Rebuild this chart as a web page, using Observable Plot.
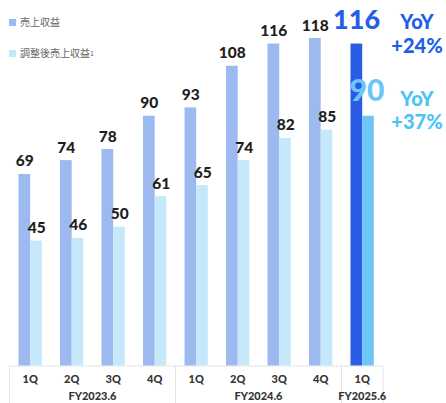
<!DOCTYPE html>
<html>
<head>
<meta charset="utf-8">
<script src="https://cdn.jsdelivr.net/npm/d3@7"></script>
<script src="https://cdn.jsdelivr.net/npm/@observablehq/plot@0.6"></script>
<style>
  html, body { margin: 0; padding: 0; background: #fff; }
  #wrap { position: relative; width: 446px; height: 403px; overflow: hidden; }
  .legend { position: absolute; left: 9px; font-family: "Noto Sans CJK JP", "Noto Sans", sans-serif; font-size: 10px; color: #666; display: flex; align-items: center; line-height: 12px; }
  .legend i { display: inline-block; width: 7px; height: 7px; margin-right: 4px; }
  .legend sub { font-size: 7px; vertical-align: -1px; }
</style>
</head>
<body>
<div id="wrap">
  <div class="legend" style="top:16px"><i style="background:#9dbaf0"></i>売上収益</div>
  <div class="legend" style="top:47px"><i style="background:#c6e8fb"></i>調整後売上収益<sub>1</sub></div>
</div>
<script>
const periods = ["1Q","2Q","3Q","4Q","1Q","2Q","3Q","4Q","1Q"];
const revenue = [69, 74, 78, 90, 93, 108, 116, 118, 116];
const adjRevenue = [45, 46, 50, 61, 65, 74, 82, 85, 90];
const fyLabels = ["FY2023.6", "FY2024.6", "FY2025.6"];
const fyStart = [0, 4, 8];
const fyEnd = [4, 8, 9];
const yoyRevenue = "+24%";
const yoyAdjusted = "+37%";

const data = periods.map((p, i) => ({
  i, period: p, revenue: revenue[i], adj: adjRevenue[i], latest: i === periods.length - 1
}));
const past = data.filter(d => !d.latest);
const latest = data.filter(d => d.latest);
const fy = fyLabels.map((label, k) => ({label, mid: (fyStart[k] + fyEnd[k]) / 2}));
const separators = [0, ...fyEnd];

const H = 403, baseY = 365.5, topY = 38;
const yBottom = -(H - baseY) / ((baseY - topY) / 118);

const font = "Lato, 'Open Sans', sans-serif";

const chart = Plot.plot({
  width: 446,
  height: H,
  marginLeft: 9, marginRight: 63.5, marginTop: 0, marginBottom: 38,
  x: {type: "linear", domain: [0, periods.length], range: [9, 382.5], axis: null},
  y: {domain: [0, 118], range: [baseY, topY], axis: null},
  style: {fontFamily: font, background: "transparent"},
  marks: [
    Plot.ruleY([0], {x1: 0, x2: periods.length, stroke: "#e4e4e4"}),
    Plot.ruleX(separators, {x: d => d, y1: 0, y2: yBottom, stroke: "#e4e4e4"}),
    Plot.rectY(data, {x1: d => d.i, x2: d => d.i + 1, y: "revenue", insetLeft: 9.5, insetRight: 20.3,
      fill: d => d.latest ? "#2b5ce6" : "#9dbaf0"}),
    Plot.rectY(data, {x1: d => d.i, x2: d => d.i + 1, y: "adj", insetLeft: 21.2, insetRight: 8.7,
      fill: d => d.latest ? "#6ec6f8" : "#c6e8fb"}),
    Plot.text(past, {x: d => d.i + 0.5, y: "revenue", text: d => String(d.revenue), dx: -5.4, dy: -8,
      lineAnchor: "bottom", fontSize: 15.5, fontWeight: 900, fill: "#1e1e1e"}),
    Plot.text(past, {x: d => d.i + 0.5, y: "adj", text: d => String(d.adj), dx: 6.5, dy: -8,
      lineAnchor: "bottom", fontSize: 15.5, fontWeight: 900, fill: "#1e1e1e"}),
    Plot.text(latest, {x: d => d.i + 0.5, y: "revenue", text: d => String(d.revenue), dx: -5.7, dy: -14.7,
      lineAnchor: "bottom", fontSize: 27, fontWeight: 900, fill: "#2b5ce6"}),
    Plot.text(latest, {x: d => d.i + 0.5, y: "adj", text: d => String(d.adj), dx: 4.8, dy: -15,
      lineAnchor: "bottom", fontSize: 30, fontWeight: 900, fill: "#6cc6f7"}),
    Plot.text(latest, {x: d => d.i + 1, y: "revenue", text: d => "YoY\n" + yoyRevenue, dx: 34, dy: 9,
      lineAnchor: "bottom", lineHeight: 1.185, fontSize: 20, fontWeight: 900, fill: "#1f5fe8"}),
    Plot.text(latest, {x: d => d.i + 1, y: "adj", text: d => "YoY\n" + yoyAdjusted, dx: 34, dy: 12.6,
      lineAnchor: "bottom", lineHeight: 1.165, fontSize: 20, fontWeight: 900, fill: "#4ec3f5"}),
    Plot.text(data, {x: d => d.i + 0.5, y: 0, text: "period", dy: 17, lineAnchor: "bottom",
      fontSize: 11, fontWeight: 900, fill: "#333"}),
    Plot.text(fy, {x: "mid", y: 0, text: "label", dy: 34, lineAnchor: "bottom",
      fontSize: 11, fontWeight: 900, fill: "#333"})
  ]
});
document.getElementById("wrap").prepend(chart);
</script>
</body>
</html>
